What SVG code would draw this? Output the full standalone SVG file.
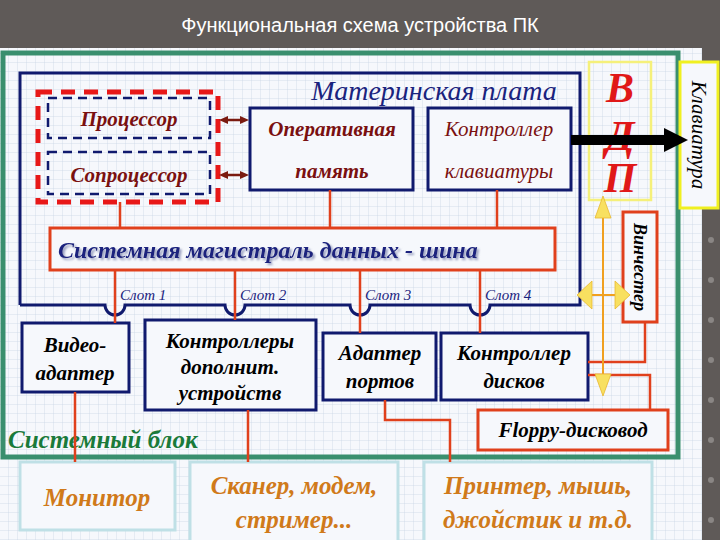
<svg xmlns="http://www.w3.org/2000/svg" width="720" height="540" viewBox="0 0 720 540">
<defs>
<pattern id="grid" width="9" height="9" patternUnits="userSpaceOnUse">
<path d="M9 0V9H0" fill="none" stroke="#c9d6e6" stroke-width="0.8"/>
</pattern>
<filter id="sh" x="-5%" y="-20%" width="110%" height="150%"><feDropShadow dx="2" dy="2" stdDeviation="0.8" flood-color="#8088b0" flood-opacity="0.8"/></filter>
<style>
.it{font-style:italic}
.bl{fill:none;stroke:#101a6e;stroke-width:3}
.ln{fill:none;stroke:#e0401c;stroke-width:2.5}
.box{fill:#f6f8fc;stroke:#101a6e;stroke-width:3}
.rbox{fill:#f6f8fc;stroke:#e0401c;stroke-width:3}
.cy{fill:#f6f8fc;stroke:#bfe0e6;stroke-width:3}
.dr{fill:#7a1010;font-size:21px}
.bk{fill:#000;font-size:21px;font-weight:bold}
.sl{fill:#1a237e;font-size:15px}
.or{fill:#d07a1a;font-size:25px;font-weight:bold}
.ah{fill:#7a1a10}
.ya{fill:#f8e060;stroke:#e8b830;stroke-width:0.8}
</style>
</defs>
<rect width="720" height="540" fill="#5f5a58"/>
<rect x="0" y="48" width="702" height="492" fill="#f6f8fc"/>
<rect x="0" y="48" width="702" height="492" fill="url(#grid)"/>
<g fill="#8a8684">
<circle cx="711" cy="80" r="3"/><circle cx="711" cy="120" r="3"/><circle cx="711" cy="160" r="3"/><circle cx="711" cy="200" r="3"/><circle cx="711" cy="240" r="3"/><circle cx="711" cy="280" r="3"/><circle cx="711" cy="320" r="3"/><circle cx="711" cy="360" r="3"/><circle cx="711" cy="400" r="3"/><circle cx="711" cy="440" r="3"/><circle cx="711" cy="480" r="3"/><circle cx="711" cy="520" r="3"/>
</g>
<text x="360" y="32" text-anchor="middle" font-family="Liberation Sans, sans-serif" font-size="20" fill="#fff">Функциональная схема устройства ПК</text>

<g font-family="Liberation Serif, DejaVu Serif, serif">
<g id="system-block">
<rect x="3" y="53" width="675" height="404" fill="none" stroke="#3a8f6e" stroke-width="5"/>
<text x="8" y="448" class="it" font-size="25" font-weight="bold" fill="#1a7a3a">Системный блок</text>
</g>

<g id="motherboard">
<path d="M20 305V73H580V305H490 a10 10 0 0 1 -20 0H370a10 10 0 0 1 -20 0H245a10 10 0 0 1 -20 0H125a10 10 0 0 1 -20 0H20" class="bl"/>
<text x="434" y="100" text-anchor="middle" class="it" font-size="28" fill="#1a237e">Материнская плата</text>
<text x="120" y="300" class="it sl">Слот 1</text>
<text x="240" y="300" class="it sl">Слот 2</text>
<text x="365" y="300" class="it sl">Слот 3</text>
<text x="485" y="300" class="it sl">Слот 4</text>
</g>

<g id="cpu">
<rect x="38" y="92" width="180" height="110" fill="none" stroke="#e81818" stroke-width="5" stroke-dasharray="14 9"/>
<rect x="48" y="98" width="162" height="40" fill="none" stroke="#101a6e" stroke-width="2.5" stroke-dasharray="9 6"/>
<rect x="48" y="152" width="162" height="42" fill="none" stroke="#101a6e" stroke-width="2.5" stroke-dasharray="9 6"/>
<text x="129" y="126" text-anchor="middle" class="it dr" font-weight="bold">Процессор</text>
<text x="129" y="182" text-anchor="middle" class="it dr" font-weight="bold">Сопроцессор</text>
</g>

<g id="ram">
<rect x="250" y="108" width="163" height="82" class="box"/>
<text x="332" y="136" text-anchor="middle" class="it dr" font-weight="bold">Оперативная</text>
<text x="332" y="178" text-anchor="middle" class="it dr" font-weight="bold">память</text>
</g>

<g id="kbd-ctrl">
<rect x="428" y="108" width="143" height="82" class="box"/>
<text x="499" y="136" text-anchor="middle" class="it dr">Контроллер</text>
<text x="499" y="178" text-anchor="middle" class="it dr">клавиатуры</text>
</g>

<g id="vdp">
<rect x="589" y="62" width="62" height="138" fill="none" stroke="#f5f07a" stroke-width="2.5"/>
<text x="620" y="102" text-anchor="middle" class="it" font-size="42" font-weight="bold" fill="#e01818">В</text>
<text x="620" y="150" text-anchor="middle" class="it" font-size="42" font-weight="bold" fill="#e01818">Д</text>
<text x="620" y="192" text-anchor="middle" class="it" font-size="42" font-weight="bold" fill="#e01818">П</text>
</g>

<g id="keyboard">
<rect x="680" y="62" width="38" height="146" fill="#f6f8fc" stroke="#f0f020" stroke-width="3"/>
<text transform="translate(692 135) rotate(90)" text-anchor="middle" class="it" font-size="21" fill="#000">Клавиатура</text>
</g>

<g id="bus">
<rect x="50" y="228" width="505" height="42" class="rbox"/>
<text x="58" y="258" class="it" font-size="24" font-weight="bold" fill="#1a237e" filter="url(#sh)">Системная магистраль данных - шина</text>
</g>

<g id="hdd">
<rect x="623" y="212" width="34" height="110" class="rbox"/>
<text transform="translate(634 267) rotate(90)" text-anchor="middle" class="it" font-size="18" font-weight="bold" fill="#000">Винчестер</text>
</g>

<g id="video"><rect x="22" y="323" width="107" height="69" class="box"/>
<text x="75" y="352" text-anchor="middle" class="it bk">Видео-</text><text x="75" y="380" text-anchor="middle" class="it bk">адаптер</text></g>
<g id="ext-ctrl"><rect x="145" y="320" width="171" height="90" class="box"/>
<text x="230" y="348" text-anchor="middle" class="it bk">Контроллеры</text><text x="230" y="374" text-anchor="middle" class="it bk">дополнит.</text><text x="230" y="400" text-anchor="middle" class="it bk">устройств</text></g>
<g id="ports"><rect x="323" y="333" width="113" height="67" class="box"/>
<text x="380" y="360" text-anchor="middle" class="it bk">Адаптер</text><text x="380" y="388" text-anchor="middle" class="it bk">портов</text></g>
<g id="disk-ctrl"><rect x="441" y="333" width="147" height="67" class="box"/>
<text x="514" y="360" text-anchor="middle" class="it bk">Контроллер</text><text x="514" y="388" text-anchor="middle" class="it bk">дисков</text></g>
<g id="floppy"><rect x="478" y="410" width="190" height="40" class="rbox"/>
<text x="573" y="437" text-anchor="middle" class="it bk" font-size="20">Floppy-дисковод</text></g>

<g id="monitor"><rect x="20" y="462" width="155" height="68" class="cy"/>
<text x="97" y="506" text-anchor="middle" class="it or" font-size="30">Монитор</text></g>
<g id="scanner"><rect x="190" y="462" width="208" height="80" class="cy"/>
<text x="294" y="494" text-anchor="middle" class="it or">Сканер, модем,</text><text x="294" y="528" text-anchor="middle" class="it or">стример...</text></g>
<g id="printer"><rect x="424" y="462" width="228" height="80" class="cy"/>
<text x="538" y="494" text-anchor="middle" class="it or">Принтер, мышь,</text><text x="538" y="528" text-anchor="middle" class="it or">джойстик и т.д.</text></g>
</g>

<g id="connectors">
<path class="ln" d="M120 202V228M330 190V228M497 190V228"/>
<path class="ln" d="M115 270V323M235 270V320M360 270V333M480 270V333"/>
<path class="ln" d="M75 392V462M248 410V462M385 400V420H450V462"/>
<path class="ln" d="M588 362H645V322M588 375H650V410"/>
<path d="M226 120H242M226 175H242" stroke="#7a1a10" stroke-width="2.5"/>
<path class="ah" d="M219 120l9-4v8zM249 120l-9-4v8zM219 175l9-4v8zM249 175l-9-4v8z"/>
<path d="M571 140H666" stroke="#000" stroke-width="10"/>
<path d="M664 128L688 140L664 152z" fill="#000"/>
<path d="M603 215V378" stroke="#f0a020" stroke-width="2"/>
<path class="ya" d="M603 196L611 218H595zM603 396L611 374H595z"/>
<path d="M592 295H616" stroke="#f0a020" stroke-width="2"/>
<path class="ya" d="M577 295L592 281V309zM630 295L615 281V309z"/>
</g>
</svg>
